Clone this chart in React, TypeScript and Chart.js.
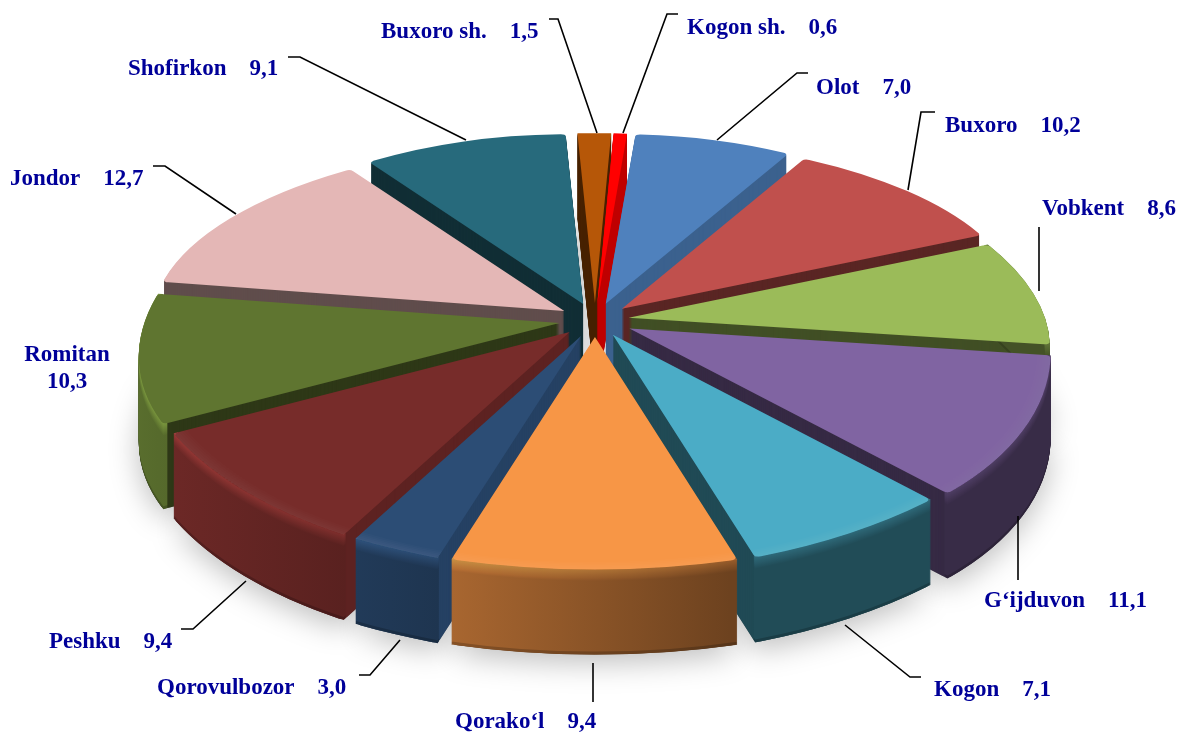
import React, { useEffect, useRef } from "react";
import { Chart, registerables } from "chart.js";

Chart.register(...registerables);

const categories = ["Kogon sh.", "Olot", "Buxoro", "Vobkent", "G‘ijduvon", "Kogon", "Qorako‘l", "Qorovulbozor", "Peshku", "Romitan", "Jondor", "Shofirkon", "Buxoro sh."];
const shares = [0.6, 7.0, 10.2, 8.6, 11.1, 7.1, 9.4, 3.0, 9.4, 10.3, 12.7, 9.1, 1.5];
const sliceColors = ["#ff0000", "#4f81bd", "#c0504d", "#9bbb59", "#8064a2", "#4bacc6", "#f79646", "#2c4d75", "#772c2a", "#5f7530", "#e4b7b6", "#276a7c", "#b65708"];
// brightness of each slice's cut face, how far each slice is pulled out, and its corner rounding
const cutShade = [0.75, 0.75, 0.47, 0.42, 0.42, 0.43, 0.45, 0.85, 0.78, 0.48, 0.42, 0.43, 0.4];
const pullOut = [1, 1, 1, 0.94, 1.08, 1, 1, 1, 1, 1, 1, 1, 1];
const cornerRound = [0, 5, 5, 5, 5, 5, 5, 5, 5, 5, 5, 5, 0];

// label placement: left x, centre y, leader polyline (start at the pie)
const labelLayout: { x: number; y: number; lead: number[][]; twoLines?: boolean }[] = [
  { x: 687, y: 28, lead: [[623, 133], [667, 14], [678, 14]] },
  { x: 816, y: 88, lead: [[717, 140], [797, 73], [808, 73]] },
  { x: 945, y: 126, lead: [[908, 190], [921, 112], [935, 112]] },
  { x: 1042, y: 209, lead: [[1039, 291], [1039, 227]] },
  { x: 984, y: 601, lead: [[1018, 516], [1018, 580]] },
  { x: 934, y: 690, lead: [[845, 625], [910, 677], [921, 677]] },
  { x: 455, y: 722, lead: [[593, 663], [593, 702]] },
  { x: 157, y: 688, lead: [[400, 640], [370, 675], [359, 675]] },
  { x: 49, y: 642, lead: [[246, 581], [193, 629], [181, 629]] },
  { x: 67, y: 355, lead: [], twoLines: true },
  { x: 10, y: 179, lead: [[236, 214], [165, 166], [153, 166]] },
  { x: 128, y: 69, lead: [[466, 140], [300, 57], [288, 57]] },
  { x: 381, y: 32, lead: [[597, 133], [558, 19], [549, 19]] },
];

const PIE = { cx: 595, cy: 320, a: 416, b: 197, p: 0.16, ex: 36, ey: 17, depth: 85, rotation: 2.6 };

function shade(hex: string, f: number): string {
  const n = parseInt(hex.slice(1), 16);
  const c = [(n >> 16) & 255, (n >> 8) & 255, n & 255].map((v) => Math.min(255, Math.round(v * f)));
  return `rgb(${c[0]},${c[1]},${c[2]})`;
}

// perspective of the pie's plane, from a library angle to an offset on the screen
function project(angle: number) {
  const u = Math.cos(angle);
  const v = Math.sin(angle);
  const w = 1 - PIE.p * v;
  return [(PIE.a * u) / w, (PIE.b * v) / w];
}

const pie3d = {
  id: "pie3d",
  beforeDatasetsDraw(chart: any) {
    const ctx: CanvasRenderingContext2D = chart.ctx;
    const arcs: any[] = chart.getDatasetMeta(0).data;
    const info = arcs.map((arc, i) => {
      const mid = (arc.startAngle + arc.endAngle) / 2;
      const back = -Math.sin(mid);
      const R = arc.outerRadius;
      // affine map for this slice: the tip and both outer corners land on their projected places
      const c1 = [R * Math.cos(arc.startAngle), R * Math.sin(arc.startAngle)];
      const c2 = [R * Math.cos(arc.endAngle), R * Math.sin(arc.endAngle)];
      const p1 = project(arc.startAngle);
      const p2 = project(arc.endAngle);
      const det = c1[0] * c2[1] - c2[0] * c1[1];
      const ma = (p1[0] * c2[1] - p2[0] * c1[1]) / det;
      const mc = (p2[0] * c1[0] - p1[0] * c2[0]) / det;
      const mb = (p1[1] * c2[1] - p2[1] * c1[1]) / det;
      const md = (p2[1] * c1[0] - p1[1] * c2[0]) / det;
      const tx = PIE.cx + Math.cos(mid) * PIE.ex * pullOut[i];
      const ty = PIE.cy + Math.sin(mid) * PIE.ey * pullOut[i];
      return { arc, i, mid, back, R, ma, mb, mc, md, tx, ty };
    });
    const place = (s: any, d: number) =>
      ctx.setTransform(
        s.ma, s.mb, s.mc, s.md,
        s.tx - s.ma * s.arc.x - s.mc * s.arc.y,
        s.ty + d - s.mb * s.arc.x - s.md * s.arc.y
      );
    const paint = (s: any, d: number, fill: any, inner = 0) => {
      const arc = s.arc;
      const saved = arc.options;
      const savedInner = arc.innerRadius;
      arc.options = { ...saved, backgroundColor: fill, borderWidth: 0, borderRadius: inner ? 0 : cornerRound[s.i] };
      arc.innerRadius = inner;
      ctx.save();
      place(s, d);
      arc.draw(ctx);
      ctx.restore();
      arc.options = saved;
      arc.innerRadius = savedInner;
    };
    const wall = (s: any, mult: number) => {
      const u = (px: number) => s.arc.x + (px - s.tx) / s.ma;
      const g = ctx.createLinearGradient(u(137), 0, u(730), 0);
      const base = sliceColors[s.i];
      g.addColorStop(0, shade(base, 0.95 * mult));
      g.addColorStop(1, shade(base, 0.44 * mult));
      return g;
    };
    const order = [...info].sort((a, b) => Math.sin(a.mid) - Math.sin(b.mid));

    // soft ground shadow
    ctx.save();
    ctx.shadowColor = "rgba(0,0,0,0.26)";
    ctx.shadowBlur = 30;
    ctx.shadowOffsetY = 8;
    order.forEach((s) => paint(s, PIE.depth, "#888888"));
    ctx.restore();

    // extruded sides, back to front
    order.forEach((s) => {
      const flat = shade(sliceColors[s.i], cutShade[s.i]);
      for (let d = PIE.depth; d >= 1; d -= 1) paint(s, d, flat);
      if (s.back > 0.3) return;
      const ring = s.R - 4;
      for (let d = PIE.depth; d >= 0; d -= 1) {
        let mult = 1;
        if (d > PIE.depth - 3) mult = 0.8;
        if (d < 12) mult = 1 + (1 - d / 12) * 0.4;
        paint(s, d, wall(s, mult), ring);
      }
    });

    // top faces and rim bevel
    info.forEach((s) => {
      paint(s, 0, sliceColors[s.i]);
      const front = Math.max(0, -s.back);
      if (front > 0) {
        for (let k = 1; k <= 5; k++) paint(s, 0, `rgba(255,255,255,${0.016 * front})`, s.R - k * 2.4);
      }
    });
    ctx.setTransform(1, 0, 0, 1, 0, 0);
    return false;
  },
  afterDraw(chart: any) {
    const ctx: CanvasRenderingContext2D = chart.ctx;
    ctx.save();
    ctx.strokeStyle = "#000000";
    ctx.lineWidth = 1.6;
    ctx.font = 'bold 23px "Liberation Serif"';
    ctx.fillStyle = "#000099";
    ctx.textBaseline = "middle";
    categories.forEach((name, i) => {
      const l = labelLayout[i];
      if (l.lead.length) {
        ctx.beginPath();
        l.lead.forEach((p, k) => (k ? ctx.lineTo(p[0], p[1]) : ctx.moveTo(p[0], p[1])));
        ctx.stroke();
      }
      const val = shares[i].toFixed(1).replace(".", ",");
      if (l.twoLines) {
        ctx.textAlign = "center";
        ctx.fillText(name, l.x, l.y);
        ctx.fillText(val, l.x, l.y + 27);
      } else {
        ctx.textAlign = "left";
        ctx.fillText(`${name}    ${val}`, l.x, l.y);
      }
    });
    ctx.restore();
  },
};

export default function App() {
  const ref = useRef<HTMLCanvasElement>(null);
  useEffect(() => {
    const chart = new Chart(ref.current as HTMLCanvasElement, {
      type: "pie",
      data: {
        labels: categories,
        datasets: [{ data: shares, backgroundColor: sliceColors, borderWidth: 0 }],
      },
      options: {
        animation: false,
        responsive: false,
        events: [],
        rotation: PIE.rotation,
        plugins: { legend: { display: false }, tooltip: { enabled: false } },
      },
      plugins: [pie3d as any],
    });
    return () => chart.destroy();
  }, []);
  return (
    <div style={{ position: "absolute", left: 0, top: 0, width: 1181, height: 733, background: "#fff" }}>
      <canvas ref={ref} width={1181} height={733} style={{ display: "block" }} />
    </div>
  );
}
